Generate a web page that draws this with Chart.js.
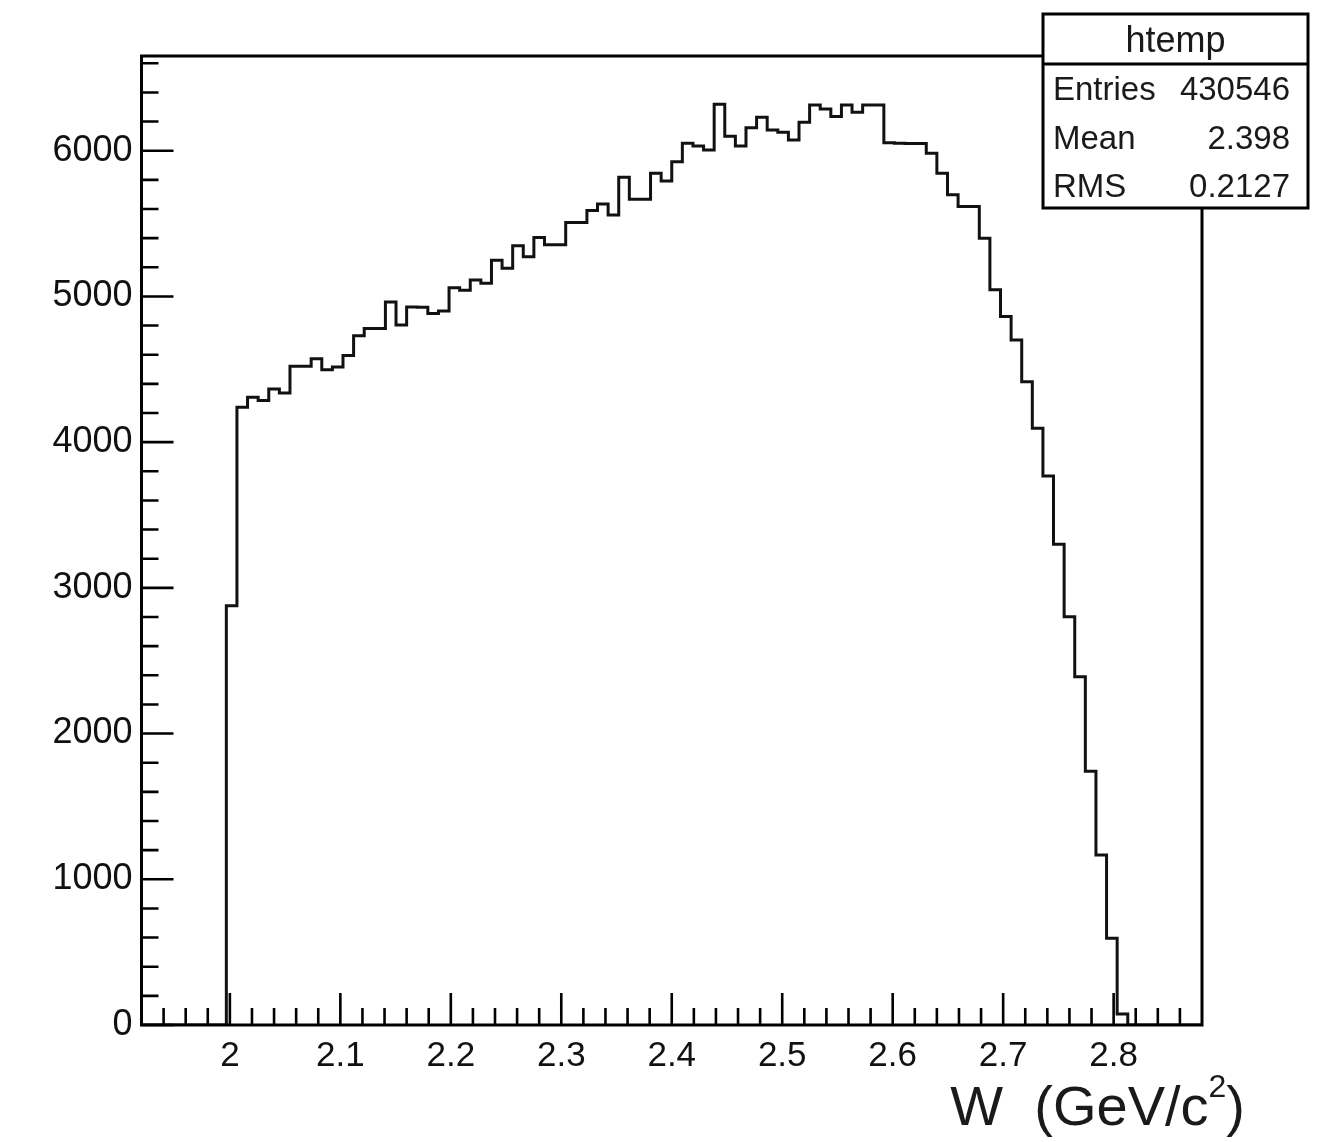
<!DOCTYPE html>
<html>
<head>
<meta charset="utf-8">
<script src="https://cdn.jsdelivr.net/npm/chart.js@4.4.1/dist/chart.umd.min.js"></script>
<style>
html,body{margin:0;padding:0;background:#ffffff;}
#wrap{width:1328px;height:1142px;position:relative;}
</style>
</head>
<body>
<div id="wrap"><canvas id="c"></canvas></div>
<script>
// ---- data ----
const histName = 'htemp';
const binLowEdge = 1.92;     // histogram low edge
const binWidth = 0.0096;     // 100 bins up to 2.88
const binCounts = [
  0, 0, 0, 0, 0, 0, 0, 0,
  2878, 4240, 4308, 4285, 4364, 4338, 4520, 4520, 4572, 4496, 4516, 4595,
  4730, 4780, 4780, 4962, 4804, 4928, 4925, 4882, 4900, 5060, 5042, 5113,
  5090, 5248, 5194, 5347, 5273, 5404, 5354, 5354, 5507, 5507, 5589, 5635,
  5559, 5818, 5667, 5667, 5846, 5793, 5925, 6051, 6033, 6005, 6319, 6100,
  6032, 6158, 6230, 6143, 6127, 6074, 6195, 6314, 6287, 6234, 6314, 6264,
  6314, 6314, 6054, 6052, 6050, 6050, 5983, 5846, 5697, 5617, 5617, 5400,
  5045, 4862, 4701, 4415, 4095, 3768, 3299, 2802, 2390, 1742, 1167, 595, 75,
  0, 0, 0, 0, 0, 0, 0
];
const xMajorTicks = [2.0, 2.1, 2.2, 2.3, 2.4, 2.5, 2.6, 2.7, 2.8];
const xTickLabels = ['2', '2.1', '2.2', '2.3', '2.4', '2.5', '2.6', '2.7', '2.8'];
const yMajorTicks = [0, 1000, 2000, 3000, 4000, 5000, 6000];
const yTickLabels = ['0', '1000', '2000', '3000', '4000', '5000', '6000'];
const statsLabels = ['Entries', 'Mean', 'RMS'];
const statsValues = ['430546', '2.398', '0.2127'];
const axisTitleParts = ['W  (GeV/c', '2', ')'];

// ---- axis settings ----
const xMin = 1.92, xMax = 2.88, xMinorStep = 0.02;
const yMin = 0, yMax = 6650, yMinorStep = 200;

// histogram outline points (left and right edge of every bin)
const histPoints = [];
binCounts.forEach((c, k) => {
  const lo = binLowEdge + k * binWidth;
  const hi = binLowEdge + (k + 1) * binWidth;
  histPoints.push({x: lo, y: c});
  histPoints.push({x: hi, y: c});
});

const FONT = '"Liberation Sans", Arial, Helvetica, sans-serif';

function labelFor(v, majors, labels) {
  for (let i = 0; i < majors.length; i++) {
    if (Math.abs(majors[i] - v) < 1e-6) return labels[i];
  }
  return '';
}

const rootDecor = {
  id: 'rootDecor',
  afterDraw(chart) {
    const {ctx, chartArea: a, scales} = chart;
    const xs = scales.x, ys = scales.y;
    ctx.save();
    ctx.strokeStyle = '#000';
    // frame
    ctx.lineWidth = 3;
    ctx.strokeRect(a.left, a.top, a.right - a.left, a.bottom - a.top);
    // ticks drawn inside the frame
    ctx.lineWidth = 2.6;
    ctx.beginPath();
    xs.ticks.forEach(t => {
      const px = xs.getPixelForValue(t.value);
      const len = t.label ? 32 : 17;
      ctx.moveTo(px, a.bottom);
      ctx.lineTo(px, a.bottom - len);
    });
    ys.ticks.forEach(t => {
      const py = ys.getPixelForValue(t.value);
      const len = t.label ? 32 : 17;
      ctx.moveTo(a.left, py);
      ctx.lineTo(a.left + len, py);
    });
    ctx.stroke();

    // axis title, right-aligned below the axis
    ctx.fillStyle = '#1a1a1a';
    ctx.textBaseline = 'alphabetic';
    ctx.textAlign = 'left';
    const bigFont = '56px ' + FONT, supFont = '32px ' + FONT;
    ctx.font = bigFont; const w0 = ctx.measureText(axisTitleParts[0]).width;
    const w2 = ctx.measureText(axisTitleParts[2]).width;
    ctx.font = supFont; const w1 = ctx.measureText(axisTitleParts[1]).width;
    const right = a.right + 43, base = a.bottom + 100;
    let tx = right - (w0 + w1 + w2);
    ctx.font = bigFont; ctx.fillText(axisTitleParts[0], tx, base); tx += w0;
    ctx.font = supFont; ctx.fillText(axisTitleParts[1], tx, base - 28); tx += w1;
    ctx.font = bigFont; ctx.fillText(axisTitleParts[2], tx, base);

    // statistics box
    const bx = a.right - 159, by = a.top - 42, bw = 265, bh = 194, th = 50;
    ctx.fillStyle = '#fff';
    ctx.fillRect(bx, by, bw, bh);
    ctx.lineWidth = 3;
    ctx.strokeRect(bx, by, bw, bh);
    ctx.beginPath();
    ctx.moveTo(bx, by + th);
    ctx.lineTo(bx + bw, by + th);
    ctx.stroke();
    ctx.fillStyle = '#1a1a1a';
    ctx.font = '36px ' + FONT;
    ctx.textAlign = 'center';
    ctx.textBaseline = 'alphabetic';
    ctx.fillText(histName, bx + bw / 2, by + 38);
    ctx.font = '33px ' + FONT;
    statsLabels.forEach((lab, i) => {
      const yb = by + 86 + i * 48.5;
      ctx.textAlign = 'left';
      ctx.fillText(lab, bx + 10, yb);
      ctx.textAlign = 'right';
      ctx.fillText(statsValues[i], bx + bw - 18, yb);
    });
    ctx.restore();
  }
};

new Chart(document.getElementById('c'), {
  type: 'line',
  data: {
    datasets: [{
      label: histName,
      data: histPoints,
      borderColor: '#111111',
      borderWidth: 3,
      pointRadius: 0,
      fill: false,
      tension: 0
    }]
  },
  options: {
    responsive: true,
    maintainAspectRatio: false,
    animation: false,
    layout: {padding: {top: 56, right: 126, left: 0, bottom: 0}},
    plugins: {legend: {display: false}, tooltip: {enabled: false}, title: {display: false}},
    scales: {
      x: {
        type: 'linear',
        min: xMin, max: xMax,
        grid: {display: false, drawTicks: false},
        border: {display: false},
        afterBuildTicks(scale) {
          const t = [];
          const n = Math.round((xMax - xMin) / xMinorStep);
          for (let i = 1; i < n; i++) {
            const v = Math.round((xMin + i * xMinorStep) * 1000) / 1000;
            t.push({value: v});
          }
          scale.ticks = t;
        },
        afterFit(scale) { scale.height = 117; },
        ticks: {
          autoSkip: false, maxRotation: 0, minRotation: 0,
          padding: 10,
          color: '#111',
          font: {family: FONT, size: 35},
          callback: (v) => labelFor(v, xMajorTicks, xTickLabels)
        }
      },
      y: {
        type: 'linear',
        min: yMin, max: yMax,
        grid: {display: false, drawTicks: false},
        border: {display: false},
        afterBuildTicks(scale) {
          const t = [];
          for (let v = yMin; v <= yMax; v += yMinorStep) t.push({value: v});
          scale.ticks = t;
        },
        afterFit(scale) { scale.width = 141.5; },
        ticks: {
          autoSkip: false,
          padding: 9,
          color: '#111',
          font: {family: FONT, size: 36},
          callback: (v) => labelFor(v, yMajorTicks, yTickLabels)
        }
      }
    }
  },
  plugins: [rootDecor]
});
</script>
</body>
</html>
